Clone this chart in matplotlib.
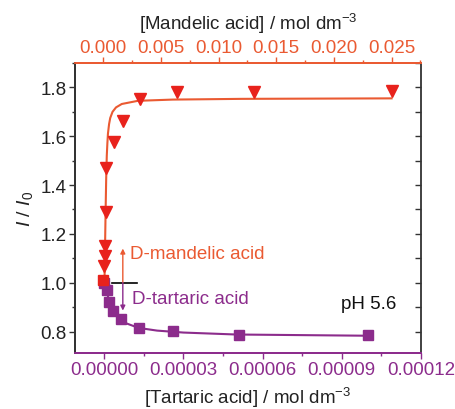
import matplotlib
matplotlib.use("Agg")
import matplotlib.pyplot as plt
from matplotlib.ticker import MultipleLocator, FormatStrFormatter

plt.rcParams['font.family'] = ['Liberation Sans', 'DejaVu Sans']
plt.rcParams['mathtext.fontset'] = 'custom'
plt.rcParams['mathtext.rm'] = 'Liberation Sans'
plt.rcParams['mathtext.it'] = 'Liberation Sans:italic'

# D-mandelic acid (top axis), mol dm-3
mand_x = [0.00010, 0.00013, 0.00016, 0.00020, 0.00025, 0.00095, 0.00168, 0.00318, 0.00636, 0.01307, 0.02506]
mand_y = [1.07, 1.11, 1.15, 1.29, 1.47, 1.577, 1.663, 1.752, 1.782, 1.782, 1.786]
mand_x0 = [0.0]
mand_y0 = [1.01]
# fitted curve
mand_fit_x = [0.0001, 0.00015, 0.0002, 0.00025, 0.0003, 0.00035, 0.0004, 0.0005, 0.0006, 0.0008,
              0.0011, 0.0016, 0.003, 0.006, 0.012, 0.025]
mand_fit_y = [1.0, 1.15, 1.30, 1.43, 1.52, 1.57, 1.61, 1.65, 1.675, 1.70,
              1.718, 1.732, 1.745, 1.75, 1.753, 1.755]

# D-tartaric acid (bottom axis), mol dm-3
tart_x = [0.0, 9e-7, 1.9e-6, 3.2e-6, 6.3e-6, 1.31e-5, 2.62e-5, 5.12e-5, 1.0e-4]
tart_y = [1.0, 0.971, 0.923, 0.886, 0.852, 0.814, 0.802, 0.787, 0.784]
tart_fit_x = [0.0, 1e-6, 2e-6, 3e-6, 5e-6, 8e-6, 1.3e-5, 2e-5, 3e-5, 5e-5, 1e-4]
tart_fit_y = [1.0, 0.957, 0.921, 0.892, 0.86, 0.835, 0.815, 0.804, 0.796, 0.788, 0.783]

orange = '#ea5a32'
red = '#e8221c'
purple = '#8c2c8c'

fig = plt.figure(figsize=(4.55, 4.10), dpi=100)
ax = fig.add_axes([0.165, 0.137, 0.76, 0.707])
ax2 = ax.twiny()

# tartaric
ax.plot(tart_fit_x, tart_fit_y, color=purple, lw=1.5)
ax.plot(tart_x, tart_y, 's', color=purple, ms=6.5, mec=purple)

# mandelic
ax2.plot(mand_fit_x, mand_fit_y, color=orange, lw=1.5)
ax2.plot(mand_x, mand_y, 'v', color=red, ms=8.5, mec=red)
ax2.plot(mand_x0, mand_y0, 's', color=red, ms=7, mec=red)

ax.set_xlim(-1.11e-5, 1.2e-4)
ax2.set_xlim(-0.00245, 0.02754)
ax.set_ylim(0.713, 1.9)

fs = 13.5
ax.xaxis.set_major_locator(MultipleLocator(3e-5))
ax.xaxis.set_minor_locator(MultipleLocator(1.5e-5))
ax.xaxis.set_major_formatter(FormatStrFormatter('%.5f'))
ax2.xaxis.set_major_locator(MultipleLocator(0.005))
ax2.xaxis.set_minor_locator(MultipleLocator(0.0025))
ax2.xaxis.set_major_formatter(FormatStrFormatter('%.3f'))
ax.yaxis.set_major_locator(MultipleLocator(0.2))
ax.yaxis.set_minor_locator(MultipleLocator(0.1))
ax.yaxis.set_major_formatter(FormatStrFormatter('%.1f'))

ax.tick_params(axis='x', which='both', colors=purple, labelsize=fs, direction='out', pad=2)
ax.tick_params(axis='x', which='major', length=4, width=1)
ax.tick_params(axis='x', which='minor', length=2.5, width=1)
ax2.tick_params(axis='x', which='both', colors=orange, labelsize=fs, direction='out', pad=1)
ax2.tick_params(axis='x', which='major', length=4, width=1)
ax2.tick_params(axis='x', which='minor', length=2.5, width=1)
ax.tick_params(axis='y', which='both', colors='#333333', labelsize=fs, direction='out',
               labelcolor='#222222', pad=2)
ax.tick_params(axis='y', which='major', length=4, width=1)
ax.tick_params(axis='y', which='minor', length=2.5, width=1)

sec = ax.secondary_yaxis('right')
sec.yaxis.set_major_locator(MultipleLocator(0.2))
sec.yaxis.set_minor_locator(MultipleLocator(0.1))
sec.tick_params(axis='y', which='both', direction='in', labelright=False, colors='#333333')
sec.tick_params(axis='y', which='major', length=4, width=1)
sec.tick_params(axis='y', which='minor', length=4, width=1)
sec.spines['right'].set_color('#333333')
sec.spines['right'].set_linewidth(1.3)

for a in (ax, ax2):
    a.spines['left'].set_color('#333333')
    a.spines['left'].set_linewidth(1.3)
    a.spines['right'].set_visible(False)
    a.spines['bottom'].set_color(purple)
    a.spines['bottom'].set_linewidth(1.3)
    a.spines['top'].set_color(orange)
    a.spines['top'].set_linewidth(1.3)

ax.set_xlabel('[Tartaric acid] / mol dm$^{-3}$', fontsize=fs, color='#222222', labelpad=5)
ax2.set_xlabel('[Mandelic acid] / mol dm$^{-3}$', fontsize=fs, color='#222222', labelpad=7)
ax.set_ylabel('$I$ / $I_0$', fontsize=fs + 0.5, color='#222222', labelpad=4)

# annotations
ax.annotate('', xy=(7e-6, 1.14), xytext=(7e-6, 1.0),
            arrowprops=dict(arrowstyle='-|>', color=orange, lw=1, mutation_scale=7, shrinkA=0, shrinkB=0))
ax.annotate('', xy=(7e-6, 0.886), xytext=(7e-6, 1.0),
            arrowprops=dict(arrowstyle='-|>', color=purple, lw=1, mutation_scale=7, shrinkA=0, shrinkB=0))
ax.plot([2.8e-6, 1.24e-5], [1.0, 1.0], color='black', lw=1.2)
ax.text(9.8e-6, 1.118, 'D-mandelic acid', color=orange, fontsize=fs, va='center', ha='left')
ax.text(1.04e-5, 0.934, 'D-tartaric acid', color=purple, fontsize=fs, va='center', ha='left')
ax.text(1.108e-4, 0.913, 'pH 5.6', color='#111111', fontsize=fs, va='center', ha='right')

fig.savefig('out.png', dpi=100)
